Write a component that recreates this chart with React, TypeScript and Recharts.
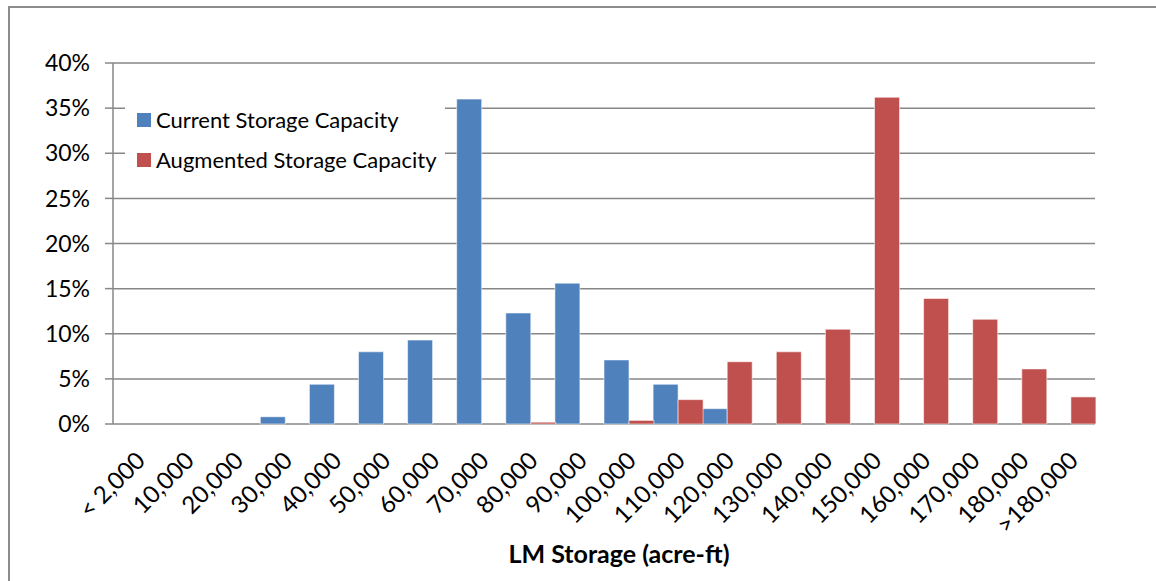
import React from "react";
import { BarChart, Bar, XAxis, YAxis, CartesianGrid, Legend } from "recharts";

const categories = ["< 2,000", "10,000", "20,000", "30,000", "40,000", "50,000", "60,000", "70,000", "80,000", "90,000", "100,000", "110,000", "120,000", "130,000", "140,000", "150,000", "160,000", "170,000", "180,000", ">180,000"];
const currentValues = [0, 0, 0, 0.8, 4.4, 8.0, 9.3, 36.0, 12.3, 15.6, 7.1, 4.4, 1.7, 0, 0, 0, 0, 0, 0, 0];
const augmentedValues = [0, 0, 0, 0, 0, 0, 0, 0, 0.2, 0, 0.4, 2.7, 6.9, 8.0, 10.5, 36.2, 13.9, 11.6, 6.1, 3.0];
const yTicks = [0, 5, 10, 15, 20, 25, 30, 35, 40];
const boundaryTicks = Array.from({ length: categories.length + 1 }, (_, i) => i);

const seriesNames = ["Current Storage Capacity", "Augmented Storage Capacity"];
const seriesColors = ["#4F81BD", "#C0504D"];

const data = categories.map((c, i) => ({
  cat: c,
  current: currentValues[i],
  augmented: augmentedValues[i],
}));

const FONT = "Lato, 'Open Sans', sans-serif";
const GRID = "#878787";

const XTick = (props: any) => {
  const { x, y, payload } = props;
  return (
    <g transform={`translate(${x - 3},${y})`}>
      <text
        x={0}
        y={0}
        dy="0.71em"
        textAnchor="end"
        transform="rotate(-45)"
        fontFamily={FONT}
        fontSize={24}
        fill="#000"
      >
        {payload.value}
      </text>
    </g>
  );
};

const LegendContent = () => (
  <div
    style={{
      background: "#fff",
      width: 320,
      height: 96,
      position: "relative",
      fontFamily: FONT,
      fontSize: 22,
      color: "#000",
    }}
  >
    {seriesNames.map((n, i) => (
      <div
        key={n}
        style={{
          position: "absolute",
          left: 12,
          top: 17 + i * 40,
          display: "flex",
          alignItems: "center",
          whiteSpace: "nowrap",
          lineHeight: "28px",
        }}
      >
        <span
          style={{
            display: "inline-block",
            width: 14,
            height: 14,
            background: seriesColors[i],
            marginRight: 5,
          }}
        />
        <span>{n}</span>
      </div>
    ))}
  </div>
);

export default function App() {
  return (
    <div style={{ position: "absolute", left: 0, top: 0, width: 1156, height: 581, background: "#fff", overflow: "hidden" }}>
      <div
        style={{
          position: "absolute",
          left: 8,
          top: 6,
          width: 1200,
          height: 600,
          borderTop: "2px solid #8c8c8c",
          borderLeft: "2px solid #8c8c8c",
          boxSizing: "border-box",
        }}
      />
      <div style={{ position: "absolute", left: 0, top: 0 }}>
        <BarChart
          width={1156}
          height={581}
          data={data}
          margin={{ top: 63, right: 61, left: 0, bottom: 57 }}
          barCategoryGap={0}
          barGap={0}
        >
          <CartesianGrid vertical={false} stroke={GRID} strokeWidth={1.5} />
          <XAxis
            xAxisId="b"
            type="number"
            dataKey="idx"
            domain={[0, categories.length]}
            ticks={boundaryTicks}
            height={0}
            tick={false}
            tickSize={8}
            stroke={GRID}
            strokeWidth={1.5}
            allowDataOverflow
          />
          <XAxis
            dataKey="cat"
            height={100}
            interval={0}
            tickLine={false}
            axisLine={false}
            tick={<XTick />}
            tickMargin={18}
            tickSize={8}
          />
          <YAxis
            width={113}
            domain={[0, 40]}
            ticks={yTicks}
            tickFormatter={(v: number) => `${v}%`}
            tickSize={8}
            tickMargin={15}
            stroke={GRID}
            strokeWidth={1.5}
            tick={{ fill: "#000", fontFamily: FONT, fontSize: 23 }}
            interval={0}
          />
          <Legend
            verticalAlign="middle"
            align="center"
            layout="horizontal"
            content={<LegendContent />}
            wrapperStyle={{ position: "absolute", left: 125, top: 89, width: 320, height: 96 }}
          />
          <Bar dataKey="current" name={seriesNames[0]} fill={seriesColors[0]} stroke="rgba(255,255,255,0.55)" strokeWidth={1} isAnimationActive={false} />
          <Bar dataKey="augmented" name={seriesNames[1]} fill={seriesColors[1]} stroke="rgba(255,255,255,0.55)" strokeWidth={1} isAnimationActive={false} />
        </BarChart>
      </div>
      <div
        style={{
          position: "absolute",
          left: 419,
          width: 400,
          top: 538,
          textAlign: "center",
          fontFamily: FONT,
          fontWeight: "bold",
          fontSize: 25,
          lineHeight: "30px",
          color: "#000",
        }}
      >
        LM Storage (acre-ft)
      </div>
    </div>
  );
}
